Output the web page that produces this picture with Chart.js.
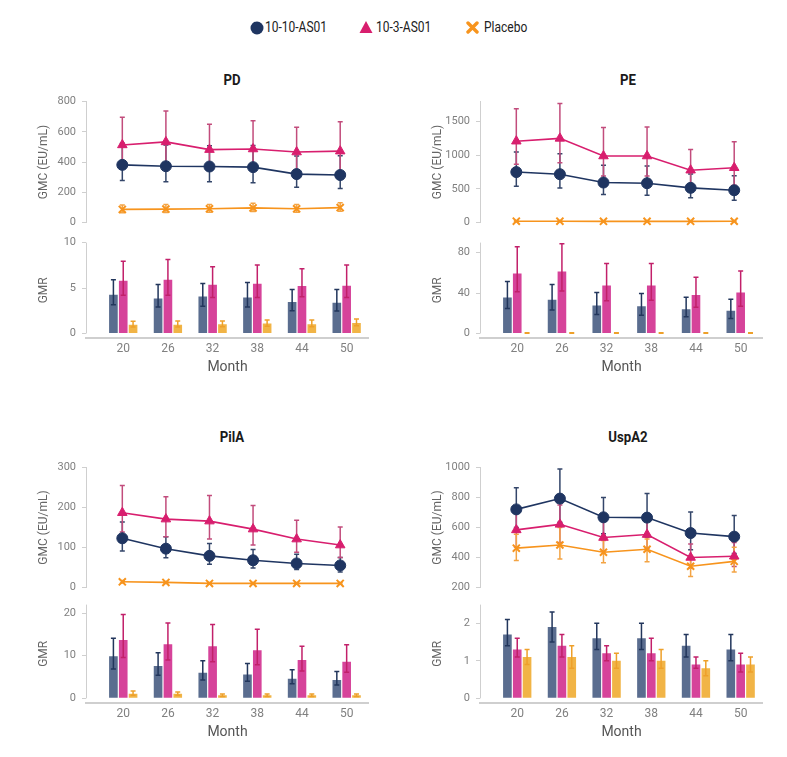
<!DOCTYPE html>
<html>
<head>
<meta charset="utf-8">
<script src="https://cdn.jsdelivr.net/npm/chart.js@4.4.1/dist/chart.umd.min.js"></script>
<style>
  body { margin: 0; background: #fff; width: 787px; height: 757px; position: relative; overflow: hidden;
         font-family: Roboto, 'Liberation Sans', sans-serif; }
  canvas { position: absolute; }
  .ttl { position: absolute; font-weight: bold; font-size: 15px; color: #1a1a1a; transform: translate(-50%, -50%) scaleX(0.88); }
  .lg { position: absolute; font-size: 15px; color: #222; transform: translateY(-50%) scaleX(0.8); transform-origin: left center; white-space: nowrap; }
  .mk { position: absolute; }
</style>
</head>
<body>

<svg class="mk" style="left:250px;top:21px" width="14" height="14"><circle cx="7" cy="7" r="6.5" fill="#1f3561"/></svg>
<span class="lg" style="left:265px;top:27px">10-10-AS01</span>
<svg class="mk" style="left:359px;top:20px" width="14" height="14"><polygon points="7,1 13.5,13 0.5,13" fill="#d81e6e"/></svg>
<span class="lg" style="left:376px;top:27px">10-3-AS01</span>
<svg class="mk" style="left:466px;top:21px" width="13" height="13"><path d="M2,2 L11,11 M11,2 L2,11" stroke="#f7941d" stroke-width="3.4" stroke-linecap="round"/></svg>
<span class="lg" style="left:484px;top:27px">Placebo</span>

<div class="ttl" style="left:232px;top:80px">PD</div>
<div class="ttl" style="left:628px;top:80px">PE</div>
<div class="ttl" style="left:232px;top:437px">PilA</div>
<div class="ttl" style="left:628px;top:437px">UspA2</div>

<canvas id="pdGmc" width="333" height="146" style="left:36px;top:89px"></canvas>
<canvas id="pdGmr" width="333" height="150" style="left:36px;top:230px"></canvas>
<canvas id="peGmc" width="333" height="146" style="left:430px;top:89px"></canvas>
<canvas id="peGmr" width="333" height="150" style="left:430px;top:230px"></canvas>
<canvas id="pilaGmc" width="333" height="145" style="left:36px;top:455px"></canvas>
<canvas id="pilaGmr" width="333" height="153" style="left:36px;top:592px"></canvas>
<canvas id="uspGmc" width="333" height="145" style="left:430px;top:455px"></canvas>
<canvas id="uspGmr" width="333" height="153" style="left:430px;top:592px"></canvas>

<script>
const months = [20, 26, 32, 38, 44, 50];
const groups = ['10-10-AS01', '10-3-AS01', 'Placebo'];

// every row is [value, lower CI, upper CI], one row per month
const pdGmc1010 = [[381, 277, 525], [372, 270, 512], [370, 270, 508], [366, 263, 510], [320, 233, 440], [314, 224, 441]];
const pdGmc103  = [[513, 378, 697], [533, 385, 738], [482, 357, 650], [486, 351, 673], [466, 345, 630], [472, 334, 667]];
const pdGmcPla  = [[86, 64, 116], [88, 66, 118], [90, 68, 118], [96, 72, 126], [90, 68, 118], [98, 74, 130]];
const pdGmr1010 = [[4.25, 3.16, 5.9], [3.86, 2.9, 5.4], [4.07, 3.0, 5.5], [3.96, 2.9, 5.6], [3.47, 2.5, 4.85], [3.37, 2.46, 4.85]];
const pdGmr103  = [[5.8, 4.2, 7.96], [5.9, 4.2, 8.14], [5.37, 3.96, 7.33], [5.47, 3.96, 7.54], [5.23, 4.03, 7.12], [5.26, 3.96, 7.54]];
const pdGmrPla  = [[0.95, 0.7, 1.33], [0.95, 0.7, 1.37], [1.0, 0.75, 1.37], [1.09, 0.8, 1.47], [1.0, 0.75, 1.47], [1.16, 0.85, 1.58]];

const peGmc1010 = [[750, 538, 1049], [718, 511, 1022], [594, 414, 851], [584, 405, 842], [515, 368, 720], [479, 331, 695]];
const peGmc103  = [[1210, 865, 1693], [1252, 888, 1772], [989, 690, 1413], [989, 690, 1422], [778, 560, 1086], [815, 553, 1201]];
const peGmcPla  = [[18, 14, 23], [18, 14, 23], [16, 12, 21], [16, 12, 21], [16, 12, 21], [17, 13, 22]];
const peGmr1010 = [[35.6, 24.8, 51.4], [33.3, 23.2, 48.6], [27.6, 18.7, 40.6], [27, 18.1, 39.7], [24.1, 16.5, 35.9], [22.5, 14.9, 34]];
const peGmr103  = [[59.4, 41.3, 86], [61.3, 42, 88.9], [47.6, 32.5, 69.2], [47.6, 33, 69.2], [38.1, 26, 55.6], [40.6, 27, 61.9]];
const peGmrPla  = [[0.5, 0.3, 0.8], [0.5, 0.3, 0.8], [0.4, 0.3, 0.7], [0.4, 0.3, 0.7], [0.4, 0.3, 0.7], [0.5, 0.3, 0.8]];

const pilaGmc1010 = [[123, 91, 164], [97, 74, 127], [79, 58, 110], [68, 48.5, 95], [60, 44.6, 83], [55, 38.5, 75]];
const pilaGmc103  = [[187, 139, 255], [171, 127, 227], [166, 121, 230], [146, 106, 205], [121, 88, 168], [106, 75, 151]];
const pilaGmcPla  = [[14, 11, 17], [12.5, 10, 15], [10, 8, 12], [10, 8, 12], [10, 8, 12], [10, 8, 12]];
const pilaGmr1010 = [[9.9, 6.9, 14.1], [7.6, 5.4, 10.7], [6.0, 4.3, 8.8], [5.6, 4.0, 8.2], [4.6, 3.4, 6.7], [4.3, 3.1, 6.3]];
const pilaGmr103  = [[13.7, 9.6, 19.7], [12.7, 9.0, 17.7], [12.2, 8.6, 17.3], [11.3, 7.9, 16.2], [9.0, 6.4, 12.2], [8.6, 6.1, 12.6]];
const pilaGmrPla  = [[1.1, 0.7, 1.7], [1.1, 0.7, 1.5], [0.7, 0.4, 1.0], [0.7, 0.4, 1.0], [0.7, 0.4, 1.0], [0.7, 0.4, 1.0]];

const uspGmc1010 = [[721, 600, 866], [793, 635, 990], [668, 558, 800], [666, 536, 827], [563, 451, 703], [539, 427, 680]];
const uspGmc103  = [[584, 470, 700], [621, 500, 750], [533, 445, 640], [553, 460, 670], [400, 330, 490], [408, 340, 500]];
const uspGmcPla  = [[462, 380, 555], [483, 390, 600], [435, 365, 514], [455, 372, 524], [341, 272, 410], [374, 303, 468]];
const uspGmr1010 = [[1.7, 1.4, 2.1], [1.9, 1.5, 2.3], [1.6, 1.3, 2.0], [1.6, 1.3, 2.0], [1.4, 1.1, 1.7], [1.3, 1.0, 1.7]];
const uspGmr103  = [[1.3, 1.1, 1.6], [1.4, 1.1, 1.7], [1.2, 1.0, 1.4], [1.2, 1.0, 1.6], [0.9, 0.8, 1.1], [0.9, 0.7, 1.2]];
const uspGmrPla  = [[1.1, 0.9, 1.3], [1.1, 0.8, 1.4], [1.0, 0.8, 1.2], [1.0, 0.8, 1.3], [0.8, 0.6, 1.0], [0.9, 0.7, 1.1]];

// axis ticks
const pdGmcTicks = [0, 200, 400, 600, 800];
const peGmcTicks = [0, 500, 1000, 1500];
const pilaGmcTicks = [0, 100, 200, 300];
const uspGmcTicks = [200, 400, 600, 800, 1000];
const pdGmrTicks = [0, 5, 10];
const peGmrTicks = [0, 40, 80];
const pilaGmrTicks = [0, 10, 20];
const uspGmrTicks = [0, 1, 2];

const lineColors = ['#1f3561', '#d81e6e', '#f7941d'];
const lineErrColors = ['#34466a', '#c24c7c', '#f3a444'];
const barColors = ['#5a6d8f', '#d6439a', '#f1b446'];
const barErrColors = ['#22365c', '#c2206a', '#eea02a'];
const pointStyles = ['circle', 'triangle', 'crossRot'];
const axisGrey = '#cfcfcf';
const textGrey = '#808080';

Chart.defaults.font.family = "Roboto, 'Liberation Sans', sans-serif";

function drawErrors(chart) {
  const ctx = chart.ctx;
  const y = chart.scales.y;
  chart.data.datasets.forEach((ds, di) => {
    const meta = chart.getDatasetMeta(di);
    meta.data.forEach((el, k) => {
      const lo = y.getPixelForValue(ds.errs[k][0]);
      const hi = y.getPixelForValue(ds.errs[k][1]);
      const x = el.x;
      ctx.save();
      ctx.strokeStyle = ds.errColor;
      ctx.lineWidth = 1.5;
      ctx.beginPath();
      ctx.moveTo(x, lo); ctx.lineTo(x, hi);
      ctx.moveTo(x - 2.5, lo); ctx.lineTo(x + 2.5, lo);
      ctx.moveTo(x - 2.5, hi); ctx.lineTo(x + 2.5, hi);
      ctx.stroke();
      ctx.restore();
    });
  });
}

const errorBars = {
  id: 'errorBars',
  beforeDatasetsDraw(chart, args, opts) {
    if (opts.layer === 'before') drawErrors(chart);
  },
  afterDatasetsDraw(chart, args, opts) {
    if (opts.layer !== 'before') drawErrors(chart);
  },
};

// y axis line of the GMR charts stops at zero, above the x axis line
const yStub = {
  id: 'yStub',
  afterDraw(chart) {
    const ctx = chart.ctx;
    const x = Math.round(chart.chartArea.left) + 0.5;
    ctx.save();
    ctx.strokeStyle = axisGrey;
    ctx.lineWidth = 1;
    ctx.beginPath();
    ctx.moveTo(x, chart.chartArea.top);
    ctx.lineTo(x, chart.scales.y.getPixelForValue(0));
    ctx.stroke();
    ctx.restore();
  },
};

function yAxis(ticks, min, max, title, ownBorder) {
  return {
    min: min,
    max: max,
    afterBuildTicks: (s) => { s.ticks = ticks.map((v) => ({ value: v })); },
    afterFit: (s) => { s.width = 50; },
    border: { display: ownBorder, color: axisGrey, width: 1 },
    grid: { display: true, drawOnChartArea: false, drawTicks: true, tickLength: 4, color: axisGrey },
    ticks: { color: textGrey, font: { size: 11 }, padding: 6, callback: (v) => String(v) },
    title: { display: true, text: title, color: '#666', font: { size: 12 }, padding: { top: 1, bottom: 0 } },
  };
}

function makeGmc(id, rows, ticks, max) {
  const datasets = rows.map((r, i) => ({
    label: groups[i],
    data: months.map((m, k) => ({ x: m, y: r[k][0] })),
    errs: r.map((e) => [e[1], e[2]]),
    errColor: lineErrColors[i],
    borderColor: lineColors[i],
    backgroundColor: lineColors[i],
    pointStyle: pointStyles[i],
    pointRadius: i === 2 ? 5 : 5.5,
    pointBorderWidth: i === 2 ? 2 : 1,
    borderWidth: 1.6,
    clip: false,
  }));
  new Chart(document.getElementById(id), {
    type: 'line',
    data: { datasets: datasets },
    options: {
      responsive: false,
      animation: false,
      events: [],
      layout: { padding: { top: 8, bottom: 8, left: 0, right: 0 } },
      scales: {
        x: { type: 'linear', min: 15, max: 53, display: false },
        y: yAxis(ticks, ticks[0], max, 'GMC (EU/mL)', true),
      },
      plugins: { legend: { display: false }, tooltip: { enabled: false }, errorBars: { layer: 'before' } },
    },
    plugins: [errorBars],
  });
}

function makeGmr(id, rows, ticks, max) {
  const datasets = rows.map((r, i) => ({
    label: groups[i],
    data: months.map((m, k) => ({ x: m, y: r[k][0] })),
    errs: r.map((e) => [e[1], e[2]]),
    errColor: barErrColors[i],
    backgroundColor: barColors[i],
    categoryPercentage: 0.66,
    barPercentage: 0.88,
  }));
  new Chart(document.getElementById(id), {
    type: 'bar',
    data: { datasets: datasets },
    options: {
      responsive: false,
      animation: false,
      events: [],
      layout: { padding: { top: 8, bottom: 0, left: 0, right: 0 } },
      scales: {
        x: {
          type: 'linear',
          min: 15,
          max: 53,
          offset: false,
          afterBuildTicks: (s) => { s.ticks = months.map((v) => ({ value: v })); },
          afterFit: (s) => { s.height = 42; },
          grid: { display: false, drawTicks: false, offset: false },
          border: { display: true, color: axisGrey, width: 2 },
          ticks: { color: textGrey, font: { size: 12 }, padding: 4, maxRotation: 0, autoSkip: false },
          title: { display: true, text: 'Month', color: '#555', font: { size: 14 }, padding: { top: 0, bottom: 4 } },
        },
        y: yAxis(ticks, -max * 0.05, max, 'GMR', false),
      },
      plugins: { legend: { display: false }, tooltip: { enabled: false }, errorBars: { layer: 'after' } },
    },
    plugins: [errorBars, yStub],
  });
}

makeGmc('pdGmc', [pdGmc1010, pdGmc103, pdGmcPla], pdGmcTicks, 800);
makeGmr('pdGmr', [pdGmr1010, pdGmr103, pdGmrPla], pdGmrTicks, 10);
makeGmc('peGmc', [peGmc1010, peGmc103, peGmcPla], peGmcTicks, 1800);
makeGmr('peGmr', [peGmr1010, peGmr103, peGmrPla], peGmrTicks, 90);
makeGmc('pilaGmc', [pilaGmc1010, pilaGmc103, pilaGmcPla], pilaGmcTicks, 300);
makeGmr('pilaGmr', [pilaGmr1010, pilaGmr103, pilaGmrPla], pilaGmrTicks, 22);
makeGmc('uspGmc', [uspGmc1010, uspGmc103, uspGmcPla], uspGmcTicks, 1000);
makeGmr('uspGmr', [uspGmr1010, uspGmr103, uspGmrPla], uspGmrTicks, 2.5);
</script>
</body>
</html>
